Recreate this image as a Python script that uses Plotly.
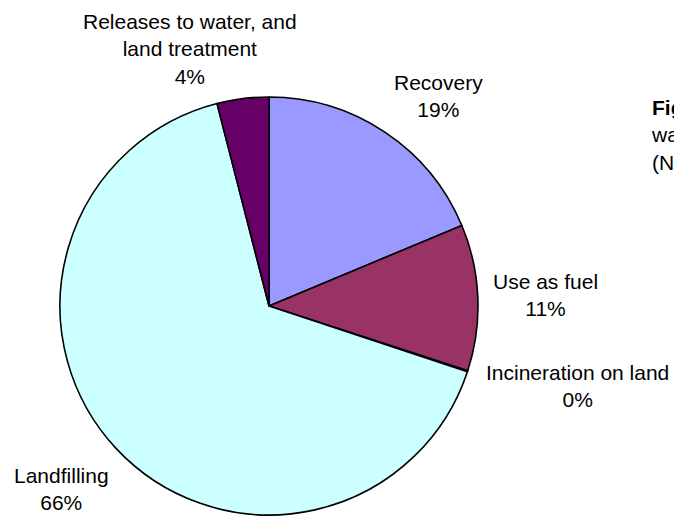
import plotly.graph_objects as go

# Data
categories = ["Recovery", "Use as fuel", "Incineration on land", "Landfilling",
              "Releases to water, and land treatment"]
values = [18.7, 11.3, 0.08, 65.9, 4.0]
label_lines = ["Recovery", "Use as fuel", "Incineration on land", "Landfilling",
               "Releases to water, and<br>land treatment"]
colors = ["#9999FF", "#993366", "#FFFFCC", "#CCFFFF", "#660066"]

W, H = 674, 516
# label centers in pixels (style/position only)
label_pos = [(438, 96), (545, 295), (577, 386), (61, 489), (190, 49)]

total = sum(values)

fig = go.Figure(go.Pie(
    labels=categories,
    values=values,
    sort=False,
    direction="clockwise",
    rotation=0,
    marker=dict(colors=colors, line=dict(color="black", width=1.6)),
    textinfo="none",
    hoverinfo="label+percent",
    showlegend=False,
    domain=dict(x=[60 / W, 478 / W], y=[1 / H, 419 / H]),
))

annotations = []
for lab, v, (px, py) in zip(label_lines, values, label_pos):
    pct = f"{round(v / total * 100):.0f}%"
    annotations.append(dict(
        x=px / W, y=1 - py / H, xref="paper", yref="paper",
        text=f"{lab}<br>{pct}", showarrow=False,
        xanchor="center", yanchor="middle", align="center",
        font=dict(family="Arial, Liberation Sans, sans-serif", size=21, color="black"),
    ))

annotations.append(dict(
    x=649 / W, y=1 - 94 / H, xref="paper", yref="paper",
    text="<b>Figure 4: Treatment of hazardous</b><br>waste by destination<br>(Netherlands, 2000)",
    showarrow=False, xanchor="left", yanchor="top", align="left",
    font=dict(family="Arial, Liberation Sans, sans-serif", size=21, color="black"),
))

fig.update_layout(
    width=W, height=H,
    margin=dict(l=0, r=0, t=0, b=0),
    paper_bgcolor="white", plot_bgcolor="white",
    annotations=annotations,
)

fig.write_html("out.html")
